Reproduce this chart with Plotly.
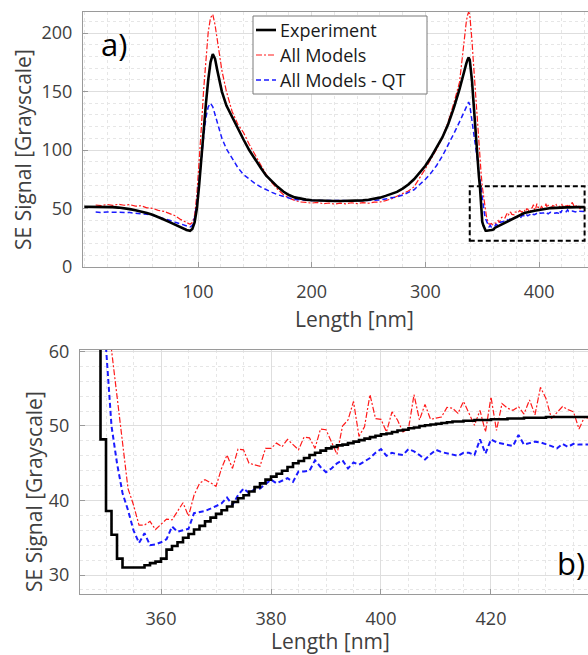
import plotly.graph_objects as go

# ---------------- data ----------------
# coarse samples (nm) for the overview panel
x_coarse = [0, 5, 10, 15, 20, 25, 30, 35, 40, 45, 50, 55, 60, 65, 70, 75, 80, 85, 90, 93,
            95, 97, 99, 101, 103, 105, 107, 109, 111, 113, 115, 117, 119, 121, 125, 130, 135, 140, 145, 150,
            155, 160, 165, 170, 175, 180, 185, 190, 195, 200, 205, 210, 215, 220, 225, 230, 235, 240, 245, 250,
            255, 260, 265, 270, 275, 280, 285, 290, 295, 300, 305, 310, 315, 320, 325, 330, 332, 334, 336, 337,
            338, 339, 340, 341, 342, 343, 344]
exp_coarse = [51.5, 51.5, 51.5, 51.5, 51.4, 51.2, 50.8, 50.3, 49.5, 48.6, 47.6, 46.2, 44.6, 42.8, 40.6, 38.4, 36.0, 33.6, 31.6, 31.0,
              32.5, 38.0, 50.0, 70.0, 95.0, 120.0, 140.0, 160.0, 175.0, 182.0, 178.0, 168.0, 158.0, 150.0, 138.0, 128.0, 118.0, 109.0, 100.0, 92.0,
              85.0, 78.0, 73.0, 68.5, 64.5, 61.5, 59.5, 58.3, 57.6, 57.1, 56.8, 56.6, 56.5, 56.4, 56.4, 56.4, 56.5, 56.7, 57.0, 57.5,
              58.3, 59.3, 60.8, 62.3, 64.2, 67.0, 70.5, 75.0, 80.5, 86.5, 94.0, 102.0, 111.0, 122.0, 136.0, 152.0, 160.0, 167.0, 174.0, 177.0,
              179.0, 177.0, 170.0, 159.0, 145.0, 130.0, 114.0]
all_coarse = [None, None, 53.0, 52.4, 53.5, 52.7, 53.6, 52.8, 53.3, 52.0, 52.4, 50.6, 50.2, 48.4, 47.6, 45.6, 43.8, 40.5, 38.0, 36.6,
              38.0, 44.0, 62.0, 88.0, 120.0, 152.0, 180.0, 201.0, 213.0, 216.0, 207.0, 194.0, 180.0, 168.0, 150.0, 133.0, 122.0, 115.0, 105.0, 96.5,
              88.0, 79.0, 72.0, 66.5, 62.0, 59.0, 57.0, 55.6, 55.2, 54.6, 55.3, 54.1, 54.7, 53.8, 54.6, 54.0, 54.9, 54.2, 55.1, 54.5,
              55.4, 55.6, 56.8, 58.2, 60.5, 62.8, 65.0, 68.5, 76.0, 84.0, 92.5, 101.0, 111.0, 124.0, 140.0, 158.0, 175.0, 195.0, 210.0, 215.0,
              218.0, 216.0, 207.0, 193.0, 178.0, 163.0, 150.0]
qt_coarse = [None, None, 47.0, 46.6, 47.0, 46.7, 47.0, 46.6, 46.5, 46.1, 45.7, 45.1, 44.2, 43.0, 41.5, 40.0, 38.3, 36.5, 35.0, 34.2,
             35.5, 42.0, 55.0, 72.0, 92.0, 112.0, 128.0, 137.0, 140.0, 137.0, 130.0, 124.0, 117.0, 110.0, 101.0, 93.0, 85.0, 79.0, 75.0, 71.5,
             68.5, 66.0, 63.8, 61.8, 60.2, 59.0, 57.8, 57.2, 57.0, 56.9, 56.8, 56.7, 56.6, 56.6, 56.5, 56.6, 56.6, 56.7, 56.8, 56.9,
             57.1, 57.3, 58.2, 59.0, 60.0, 61.5, 63.5, 66.0, 70.5, 75.0, 80.5, 87.0, 95.0, 104.0, 114.0, 124.0, 128.5, 133.5, 138.0, 140.0,
             141.0, 138.5, 132.0, 126.0, 119.0, 112.0, 105.0]

# 1 nm samples, 345..440 nm (zoomed region)
x_fine = list(range(345, 441))
exp_fine = [100, 88, 78, 68, 48.2, 38.6, 35.4, 32.2, 31.0, 31.0,
            31.0, 31.0, 31.3, 31.6, 31.8, 32.2, 33.4, 33.9, 34.4, 35.0,
            35.5, 36.1, 36.6, 37.2, 37.7, 38.2, 38.7, 39.2, 39.8, 40.3,
            40.7, 41.2, 41.8, 42.3, 42.8, 43.2, 43.6, 44.0, 44.5, 45.0,
            45.3, 45.7, 46.1, 46.4, 46.7, 47.0, 47.2, 47.4, 47.5, 47.7,
            47.9, 48.1, 48.3, 48.5, 48.7, 48.9, 49.0, 49.2, 49.4, 49.5,
            49.7, 49.8, 50.0, 50.1, 50.2, 50.3, 50.4, 50.5, 50.6, 50.6,
            50.7, 50.7, 50.8, 50.8, 50.8, 50.9, 50.9, 50.9, 51.0, 51.0,
            51.0, 51.1, 51.1, 51.1, 51.1, 51.2, 51.2, 51.2, 51.2, 51.2,
            51.2, 51.2, 51.2, 51.2, 51.2, 51.2]
all_fine = [138, 123, 108, 93, 80, 69, 60.2, 54.0, 47.8, 41.6,
            39.4, 36.7, 36.7, 37.2, 36.1, 36.8, 37.5, 37.4, 38.5, 39.7,
            37.9, 40.7, 42.3, 42.8, 42.4, 41.9, 44.3, 46.1, 44.3, 46.9,
            46.8, 45.0, 44.8, 44.6, 47.0, 47.0, 47.7, 47.2, 48.2, 47.5,
            46.8, 48.5, 48.4, 47.0, 49.6, 49.5, 47.8, 46.2, 50.0, 50.8,
            53.3, 48.6, 49.9, 54.2, 51.0, 50.9, 49.2, 51.9, 50.8, 49.2,
            49.6, 54.2, 50.8, 52.9, 50.9, 51.0, 51.2, 52.5, 52.4, 51.7,
            53.3, 51.7, 50.1, 52.1, 49.2, 53.9, 49.4, 53.0, 52.4, 52.1,
            52.6, 51.6, 53.5, 51.5, 55.2, 53.7, 51.0, 51.8, 52.6, 52.2,
            51.9, 49.6, 51.2, 51.0, 51.5, 51.3]
qt_fine = [98, 90, 82, 74, 67, 60.5, 50.0, 45.0, 41.0, 38.7,
           36.0, 34.3, 35.6, 34.0, 34.1, 34.4, 34.8, 36.5, 35.8, 36.0,
           36.2, 38.3, 38.4, 38.6, 38.9, 39.2, 39.6, 40.4, 39.4, 40.7,
           41.6, 41.0, 41.5, 41.6, 42.2, 42.8, 42.3, 42.7, 43.0, 42.5,
           43.9, 43.9, 44.0, 45.4, 44.5, 43.8, 44.3, 45.0, 45.4, 44.3,
           45.1, 44.8, 45.3, 45.7, 46.4, 46.9, 46.0, 46.4, 46.2, 46.1,
           46.9, 46.6, 46.1, 45.5, 46.2, 46.8, 46.5, 46.3, 46.1, 46.0,
           46.4, 46.4, 46.1, 48.2, 46.3, 48.2, 47.8, 47.6, 47.4, 47.3,
           48.8, 47.5, 47.7, 47.9, 47.8, 47.6, 47.3, 47.0, 47.6, 47.2,
           47.6, 47.5, 47.5, 47.5, 47.4, 47.5]

series_names = ["Experiment", "All Models", "All Models - QT"]
top_xticks = [100, 200, 300, 400]
top_yticks = [0, 50, 100, 150, 200]
bot_xticks = [360, 380, 400, 420]
bot_yticks = [30, 40, 50, 60]
zoom_box = dict(x0=339, x1=440, y0=22.5, y1=69)

# ---------------- figure ----------------
W, H = 588, 655
FONT = "Open Sans"
TXT = "#404040"

def px(x):
    return x / W

def py(y):
    return 1 - y / H

x_all = x_coarse + x_fine
styles = [
    dict(color="black", width=2.6, dash="solid"),
    dict(color="#ff1a1a", width=1.2, dash="6px,2px,2px,2px"),
    dict(color="#1a1aff", width=1.5, dash="5px,3px"),
]
top_y = [exp_coarse + exp_fine, all_coarse + all_fine, qt_coarse + qt_fine]
bot_y = [exp_fine, all_fine, qt_fine]

fig = go.Figure()
order = [1, 2, 0]
for i in order:
    fig.add_trace(go.Scatter(x=x_all, y=top_y[i], mode="lines", name=series_names[i],
                             line=styles[i], xaxis="x", yaxis="y", showlegend=False))
for i in order:
    st = dict(styles[i])
    if i == 2:
        st["width"] = 2.0
    fig.add_trace(go.Scatter(x=x_fine, y=bot_y[i], mode="lines", name=series_names[i],
                             line=st, line_shape="hv" if i == 0 else "linear",
                             xaxis="x2", yaxis="y2", showlegend=False))

axis_common = dict(
    showline=True, linecolor="#9a9a9a", linewidth=1, mirror=True,
    ticks="inside", ticklen=5, tickcolor="#9a9a9a",
    showgrid=True, gridcolor="#dedede", gridwidth=1, zeroline=False,
    tickfont=dict(family=FONT, size=18, color=TXT),
)
minor_common = dict(showgrid=True, gridcolor="#e6e6e6", griddash="dot", gridwidth=1, ticks="")

fig.update_layout(
    width=W, height=H, margin=dict(l=0, r=0, t=0, b=0, autoexpand=False),
    showlegend=False,
    paper_bgcolor="white", plot_bgcolor="white",
    font=dict(family=FONT, color=TXT),
    xaxis=dict(domain=[px(83), 1.0], range=[-1.14, 443.0], anchor="y", tickmode="array",
               tickvals=top_xticks, minor=dict(dtick=20, tick0=0, **minor_common),
               ticklabelstandoff=8, automargin=False, **axis_common),
    yaxis=dict(domain=[py(267), py(12)], range=[0, 218], anchor="x", tickmode="array",
               tickvals=top_yticks, minor=dict(dtick=10, tick0=0, **minor_common),
               ticklabelstandoff=6, automargin=False, **axis_common),
    xaxis2=dict(domain=[px(80), 1.0], range=[345.27, 437.64], anchor="y2", tickmode="array",
                tickvals=bot_xticks, minor=dict(dtick=5, tick0=0, **minor_common),
                ticklabelstandoff=8, automargin=False, **axis_common),
    yaxis2=dict(domain=[py(594), py(350)], range=[27.45, 60.2], anchor="x2", tickmode="array",
                tickvals=bot_yticks, minor=dict(dtick=2, tick0=0, **minor_common),
                ticklabelstandoff=6, automargin=False, **axis_common),
)

# zoom rectangle on overview panel
fig.add_shape(type="rect", xref="x", yref="y", **zoom_box,
              line=dict(color="black", width=2, dash="5px,3px"))

# manual legend
fig.add_shape(type="rect", xref="paper", yref="paper",
              x0=px(253), x1=px(427), y0=py(94), y1=py(16),
              line=dict(color="#7a7a7a", width=1), fillcolor="white", layer="above")
leg_y = [30, 55, 80]
for i in range(3):
    st = dict(styles[i])
    fig.add_shape(type="line", xref="paper", yref="paper",
                  x0=px(256), x1=px(276), y0=py(leg_y[i]), y1=py(leg_y[i]),
                  line=st, layer="above")
    fig.add_annotation(x=px(278), y=py(leg_y[i]), xref="paper", yref="paper",
                       text=series_names[i], showarrow=False, xanchor="left", yanchor="middle",
                       font=dict(family=FONT, size=18, color="#1a1a1a"))

# axis titles and panel labels
ann = [
    dict(x=23, y=150, text="SE Signal [Grayscale]", angle=-90, size=21),
    dict(x=355, y=319, text="Length [nm]", angle=0, size=21),
    dict(x=34, y=492, text="SE Signal [Grayscale]", angle=-90, size=21),
    dict(x=330, y=641, text="Length [nm]", angle=0, size=21),
]
for a in ann:
    fig.add_annotation(x=px(a["x"]), y=py(a["y"]), xref="paper", yref="paper", text=a["text"],
                       textangle=a["angle"], showarrow=False, xanchor="center", yanchor="middle",
                       font=dict(family=FONT, size=a["size"], color=TXT))
fig.add_annotation(x=px(114), y=py(44), xref="paper", yref="paper", text="a)", showarrow=False,
                   xanchor="center", yanchor="middle", font=dict(family=FONT, size=31, color="black"))
fig.add_annotation(x=px(571), y=py(563), xref="paper", yref="paper", text="b)", showarrow=False,
                   xanchor="center", yanchor="middle", font=dict(family=FONT, size=31, color="black"))

fig.write_html("out.html")
